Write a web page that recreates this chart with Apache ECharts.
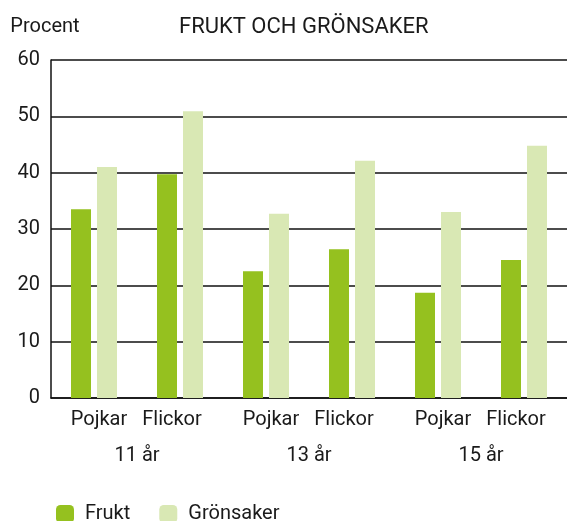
<!DOCTYPE html>
<html>
<head>
<meta charset="utf-8">
<script src="https://cdn.jsdelivr.net/npm/echarts@6/dist/echarts.min.js"></script>
<style>
  html, body { margin: 0; padding: 0; background: #fff; }
  #container { width: 567px; height: 521px; }
</style>
</head>
<body>
<div id="container"></div>
<script>
var dom = document.getElementById("container");
var myChart = echarts.init(dom, null, { renderer: "canvas" });

const groups = ["Pojkar", "Flickor", "Pojkar", "Flickor", "Pojkar", "Flickor"];
const ages = ["11 år", "13 år", "15 år"];
const frukt = [33.5, 39.7, 22.5, 26.4, 18.7, 24.5];
const gronsaker = [41.0, 50.9, 32.7, 42.1, 33.0, 44.8];

const font = "Roboto";
const textColor = "#1a1a1a";

var option = {
  animation: false,
  textStyle: { fontFamily: font },
  title: {
    text: "FRUKT OCH GRÖNSAKER",
    left: 174,
    top: 11,
    textStyle: { fontFamily: font, fontSize: 22, fontWeight: "normal", color: textColor },
  },
  legend: {
    left: 51,
    top: 499,
    itemWidth: 18,
    itemHeight: 18,
    itemGap: 29,
    textStyle: { fontFamily: font, fontSize: 20, color: textColor, padding: [0, 0, 0, 6] },
    data: ["Frukt", "Grönsaker"],
  },
  grid: {
    left: 51,
    top: 60,
    bottom: 123,
    width: 523,
  },
  xAxis: [
    {
      type: "category",
      data: groups,
      axisLine: { lineStyle: { color: "#111", width: 1.5 } },
      axisTick: { show: false },
      axisLabel: {
        interval: 0,
        fontFamily: font,
        fontSize: 20,
        color: textColor,
        margin: 12,
        formatter: function (v) {
          return v === "Pojkar" ? "{p|" + v + "}" : "{f|" + v + "}";
        },
        rich: {
          p: { fontFamily: font, fontSize: 20, color: textColor, padding: [0, 0, 0, 10] },
          f: { fontFamily: font, fontSize: 20, color: textColor, padding: [0, 16, 0, 0] },
        },
      },
    },
    {
      type: "category",
      position: "bottom",
      offset: 36,
      data: ages,
      axisLine: { show: false },
      axisTick: { show: false },
      axisLabel: { interval: 0, fontFamily: font, fontSize: 20, color: textColor, margin: 12 },
    },
  ],
  yAxis: {
    type: "value",
    min: 0,
    max: 60,
    interval: 10,
    name: "Procent",
    nameLocation: "end",
    nameGap: 23,
    nameTextStyle: { fontFamily: font, fontSize: 20, color: textColor, align: "center", padding: [0, 12, 0, 0] },
    axisLine: { show: true, lineStyle: { color: "#111", width: 1.5 } },
    axisTick: { show: false },
    axisLabel: { fontFamily: font, fontSize: 20, color: textColor, margin: 11 },
    splitLine: { lineStyle: { color: "#111", width: 1.5 } },
  },
  series: [
    {
      name: "Frukt",
      type: "bar",
      data: frukt,
      barWidth: 20,
      barGap: "30%",
      itemStyle: { color: "#95c11f" },
    },
    {
      name: "Grönsaker",
      type: "bar",
      data: gronsaker,
      barWidth: 20,
      itemStyle: { color: "#d9e8b4" },
    },
  ],
};

myChart.setOption(option);
window.addEventListener("resize", myChart.resize);
</script>
</body>
</html>
